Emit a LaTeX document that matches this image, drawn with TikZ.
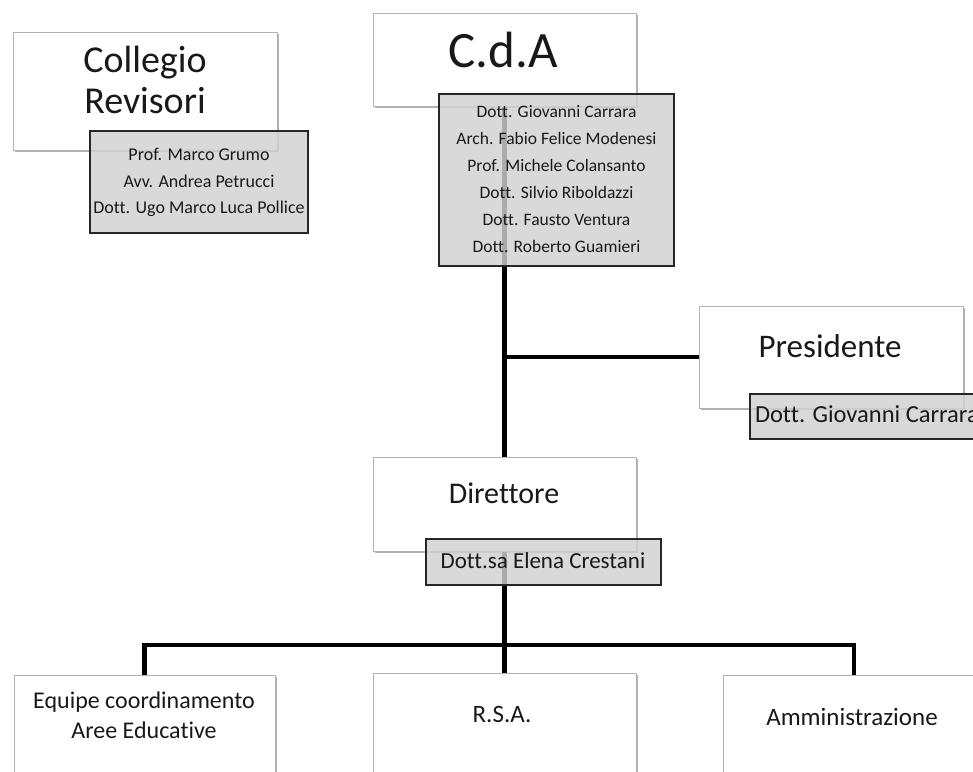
\documentclass[tikz,border=0pt]{standalone}
\usepackage{fontspec}
\setmainfont[Ligatures={NoCommon}, Contextuals={NoAlternate}]{Carlito}
\usetikzlibrary{shadows}
\pgfdeclarelayer{bg}
\pgfsetlayers{bg,main}
\begin{document}
\begin{tikzpicture}[x=1pt,y=-1pt,
  wbox/.style={draw=black!30, line width=1pt, fill=white, anchor=north west, inner sep=0pt, outer sep=0pt,
    drop shadow={shadow xshift=1.5pt, shadow yshift=-2pt, opacity=0.3, fill=black}},
  gbox/.style={draw=black!85, line width=1.2pt, fill=black!18, fill opacity=0.82, anchor=north west, inner sep=0pt, outer sep=0pt},
  conn/.style={line width=4.5pt, black},
  txt/.style={anchor=base, inner sep=0pt, outer sep=0pt, text=black!90}]
\clip (0,0) rectangle (973,771);
% white boxes
\node[wbox, minimum width=264pt, minimum height=118pt] (cr) at (13,32) {};
\node[wbox, minimum width=263pt, minimum height=93pt] (cda) at (373,13) {};
\node[wbox, minimum width=264pt, minimum height=102pt] (pres) at (699,306) {};
\node[wbox, minimum width=263pt, minimum height=94pt] (dir) at (373,457) {};
\node[wbox, minimum width=261pt, minimum height=120pt] (eq) at (14,675) {};
\node[wbox, minimum width=263pt, minimum height=120pt] (rsa) at (373,673) {};
\node[wbox, minimum width=262pt, minimum height=120pt] (amm) at (723,675) {};
% grey boxes
\node[gbox, minimum width=218pt, minimum height=102pt] (crg) at (90,131) {};
\node[gbox, minimum width=235pt, minimum height=172pt] (cdag) at (439,94) {};
\node[gbox, minimum width=240pt, minimum height=45pt] (presg) at (750,394) {};
\node[gbox, minimum width=235pt, minimum height=46pt] (dirg) at (426,539) {};
% texts
\node[txt, font=\fontsize{38}{42}\selectfont] (crt1) at (145,72) {Collegio};
\node[txt, font=\fontsize{38}{42}\selectfont] (crt2) at (145,113) {Revisori};
\node[txt, font=\fontsize{51}{56}\selectfont] (cdat) at (503,67) {C.d.A};
\node[txt, font=\fontsize{18}{22}\selectfont] (crg1) at (199,160) {Prof. Marco Grumo};
\node[txt, font=\fontsize{18}{22}\selectfont] (crg2) at (199,187) {Avv. Andrea Petrucci};
\node[txt, font=\fontsize{18}{22}\selectfont] (crg3) at (199,213) {Dott. Ugo Marco Luca Pollice};
\node[txt, font=\fontsize{17.5}{21}\selectfont] (cg1) at (556.5,117) {Dott. Giovanni Carrara};
\node[txt, font=\fontsize{17.5}{21}\selectfont] (cg2) at (556.5,144) {Arch. Fabio Felice Modenesi};
\node[txt, font=\fontsize{17.5}{21}\selectfont] (cg3) at (556.5,171) {Prof. Michele Colansanto};
\node[txt, font=\fontsize{17.5}{21}\selectfont] (cg4) at (556.5,198) {Dott. Silvio Riboldazzi};
\node[txt, font=\fontsize{17.5}{21}\selectfont] (cg5) at (556.5,225) {Dott. Fausto Ventura};
\node[txt, font=\fontsize{17.5}{21}\selectfont] (cg6) at (556.5,252) {Dott. Roberto Guamieri};
\node[txt, font=\fontsize{33}{38}\selectfont] (prest) at (830,357) {Presidente};
\node[txt, anchor=base west, font=\fontsize{24.5}{29}\selectfont] (presgt) at (755,422) {Dott. Giovanni Carrara};
\node[txt, font=\fontsize{30}{35}\selectfont] (dirt) at (504,503) {Direttore};
\node[txt, font=\fontsize{23}{27}\selectfont] (dirgt) at (543,568) {Dott.sa Elena Crestani};
\node[txt, font=\fontsize{24}{28}\selectfont] (eqt1) at (144,708) {Equipe coordinamento};
\node[txt, font=\fontsize{24}{28}\selectfont] (eqt2) at (144,738) {Aree Educative};
\node[txt, font=\fontsize{25}{29}\selectfont] (rsat) at (502,722) {R.S.A.};
\node[txt, font=\fontsize{25}{29}\selectfont] (ammt) at (852,725) {Amministrazione};
% connectors
\coordinate (bar) at (504.5,645);
\begin{pgfonlayer}{bg}
\fill[white] (0,0) rectangle (973,771);
\draw[conn] (cda.south) -- (dir.north);
\draw[conn] (pres.west) -- (pres.west -| cda.south);
\draw[conn] (dir.south) -- (rsa.north);
\draw[conn] (eq.north) |- (bar) -| (amm.north);
\end{pgfonlayer}
\end{tikzpicture}
\end{document}
